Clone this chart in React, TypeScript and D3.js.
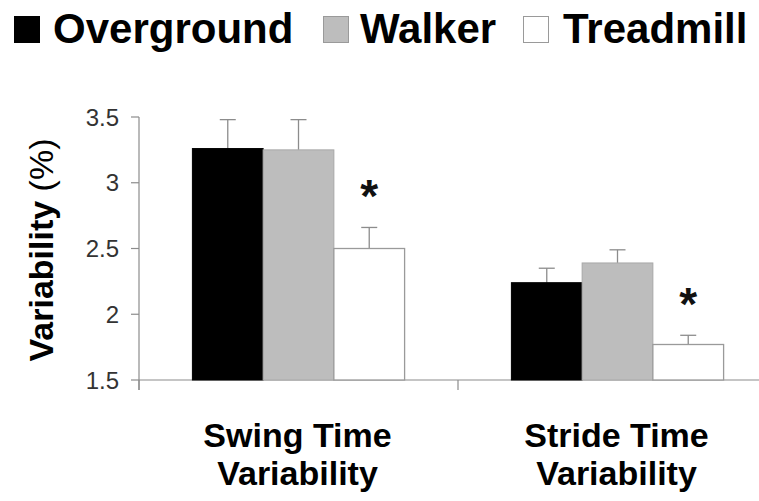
import React from "react";
import * as d3 from "d3";

const categories = ["Swing Time|Variability", "Stride Time|Variability"];
const seriesNames = ["Overground", "Walker", "Treadmill"];
const overground = [3.26, 2.24];
const walker = [3.25, 2.39];
const treadmill = [2.5, 1.77];
const overgroundErr = [0.22, 0.11];
const walkerErr = [0.23, 0.1];
const treadmillErr = [0.16, 0.07];
const significant = [false, false, true];
const yTicks = [1.5, 2, 2.5, 3, 3.5];
const yLabel = "Variability";
const yUnit = "(%)";

const W = 759;
const H = 501;
const fills = ["#000000", "#bdbdbd", "#ffffff"];
const strokes = ["#000000", "#a8a8a8", "#9a9a9a"];
const axisColor = "#8c8c8c";
const font = "Liberation Sans, Arial, Helvetica, sans-serif";

export default function App() {
  const values = [overground, walker, treadmill];
  const errs = [overgroundErr, walkerErr, treadmillErr];
  const left = 139;
  const right = 777;
  const y = d3.scaleLinear().domain([1.5, 3.5]).range([380, 117]);
  const x0 = d3.scaleBand<string>().domain(categories).range([left, right]).padding(0);
  const x1 = d3
    .scaleBand<string>()
    .domain(seriesNames)
    .range([0, x0.bandwidth()])
    .paddingInner(0)
    .paddingOuter(0.755);
  const boundaries = [left, ...categories.map((c) => (x0(c) as number) + x0.bandwidth())];
  const legendX = [14, 323, 523];
  const legendTextX = [53, 360, 563];

  return (
    <svg width={W} height={H} style={{ position: "absolute", left: 0, top: 0, background: "#fff" }}>
      <rect x={0} y={0} width={W} height={H} fill="#fff" />
      {/* legend */}
      {seriesNames.map((s, i) => (
        <g key={s}>
          <rect
            x={legendX[i] + 0.5}
            y={16.5}
            width={25}
            height={26}
            fill={fills[i]}
            stroke={i === 0 ? "#000" : "#9a9a9a"}
            strokeWidth={1}
          />
          <text x={legendTextX[i]} y={43} fontFamily={font} fontWeight="bold" fontSize={42} fill="#000">
            {s}
          </text>
        </g>
      ))}
      {/* y axis */}
      <line x1={left} x2={left} y1={y(3.5)} y2={390} stroke={axisColor} strokeWidth={1.2} />
      {yTicks.map((t) => (
        <g key={t}>
          <line x1={131} x2={left} y1={y(t)} y2={y(t)} stroke={axisColor} strokeWidth={1.2} />
          <text
            x={119}
            y={y(t)}
            dy="0.36em"
            textAnchor="end"
            fontFamily={font}
            fontSize={24}
            fill="#333"
          >
            {t}
          </text>
        </g>
      ))}
      {/* x axis */}
      <line x1={left} x2={right} y1={y(1.5)} y2={y(1.5)} stroke={axisColor} strokeWidth={1.2} />
      {boundaries.map((b, i) => (
        <line key={i} x1={b} x2={b} y1={y(1.5)} y2={390} stroke={axisColor} strokeWidth={1.2} />
      ))}
      {/* bars */}
      {categories.map((c, ci) => (
        <g key={c} transform={`translate(${x0(c)},0)`}>
          {seriesNames.map((s, si) => {
            const bx = x1(s) as number;
            const bw = x1.bandwidth();
            const v = values[si][ci];
            const e = errs[si][ci];
            const cx = bx + bw / 2;
            return (
              <g key={s}>
                <line x1={cx} x2={cx} y1={y(v)} y2={y(v + e)} stroke="#8c8c8c" strokeWidth={1.3} />
                <line x1={cx - 8} x2={cx + 8} y1={y(v + e)} y2={y(v + e)} stroke="#8c8c8c" strokeWidth={1.3} />
                <rect
                  x={bx}
                  y={y(v)}
                  width={bw}
                  height={y(1.5) - y(v)}
                  fill={fills[si]}
                  stroke={strokes[si]}
                  strokeWidth={si === 2 ? 1.3 : 1}
                />
                {significant[si] && (
                  <text
                    x={cx}
                    y={y(v + e) - 50}
                    dy="0.75em"
                    textAnchor="middle"
                    fontFamily={font}
                    fontWeight="bold"
                    fontSize={46}
                    fill="#111"
                  >
                    *
                  </text>
                )}
              </g>
            );
          })}
          {c.split("|").map((line, li) => (
            <text
              key={li}
              x={x0.bandwidth() / 2 - 1}
              y={447 + li * 38}
              textAnchor="middle"
              fontFamily={font}
              fontWeight="bold"
              fontSize={34}
              fill="#000"
            >
              {line}
            </text>
          ))}
        </g>
      ))}
      {/* y label */}
      <text
        transform={`translate(53,250) rotate(-90)`}
        textAnchor="middle"
        fontFamily={font}
        fontSize={34}
        fill="#000"
      >
        <tspan fontWeight="bold">{yLabel}</tspan>
        <tspan> {yUnit}</tspan>
      </text>
    </svg>
  );
}
